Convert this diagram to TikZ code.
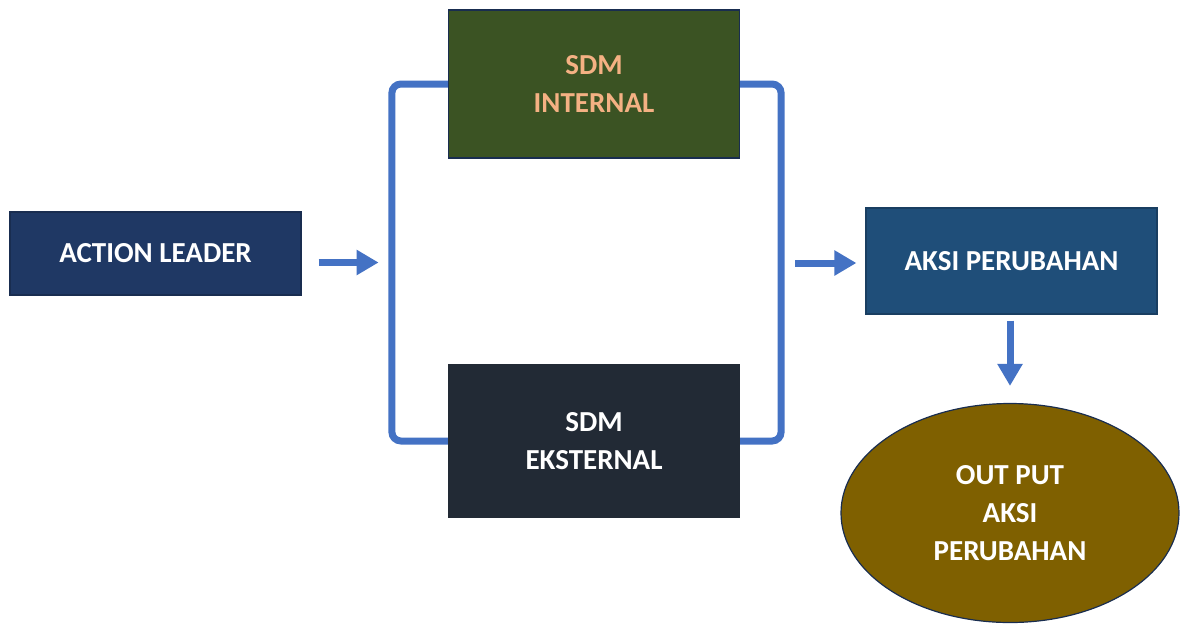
\documentclass[tikz,border=0pt]{standalone}
\usepackage{fontspec}
\setmainfont{Carlito}
\usetikzlibrary{arrows.meta,shapes.geometric}
\definecolor{blueline}{HTML}{4472C4}
\definecolor{navy}{HTML}{1F3864}
\definecolor{leafgreen}{HTML}{3B5323}
\definecolor{peach}{HTML}{F4B183}
\definecolor{slate}{HTML}{222A35}
\definecolor{steel}{HTML}{1F4E79}
\definecolor{olive}{HTML}{7F6000}
\tikzset{
	box/.style={draw=navy!80!black, line width=1.2pt, minimum width=291pt, text=white, align=center, font=\bfseries\fontsize{29}{38}\selectfont},
	bracket/.style={draw=blueline, line width=7pt, rounded corners=9pt},
	arr/.style={draw=blueline, line width=7pt, -{Triangle[length=22pt,width=24pt]}}
}
\begin{document}
\begin{tikzpicture}[x=1pt,y=-1pt]
	\useasboundingbox (0,0) rectangle (1186,625);
	\node[box, fill=navy, minimum height=83pt] (leader) at (155.5,253.5) {ACTION LEADER};
	\node[box, fill=leafgreen, text=peach, minimum height=148pt] (sdmint) at (594,84) {SDM\\INTERNAL};
	\node[box, fill=slate, draw=slate, minimum height=152pt] (sdmext) at (594,441) {SDM\\EKSTERNAL};
	\node[box, fill=steel, draw=steel!80!black, minimum height=106pt] (aksi) at (1011.5,261) {AKSI PERUBAHAN};
	\node[box, ellipse, fill=olive, minimum width=338pt, minimum height=219pt] (output) at (1010,513) {OUT PUT\\AKSI\\PERUBAHAN};
	% kurung kiri dan kanan
	\draw[bracket] (sdmint.west) -- ++(-56,0) |- (sdmext.west);
	\draw[bracket] (sdmint.east) -- ++(41,0) |- (sdmext.east);
	\draw[arr] ([shift={(17pt,-9pt)}]leader.east) -- ++(60,0);
	\draw[arr] ([xshift=-70pt,yshift=-2pt]aksi.west) -- ([xshift=-9pt,yshift=-2pt]aksi.west);
	\draw[arr] ([yshift=-6pt]aksi.south -| output.north) -- ([yshift=17pt]output.north);
\end{tikzpicture}
\end{document}
